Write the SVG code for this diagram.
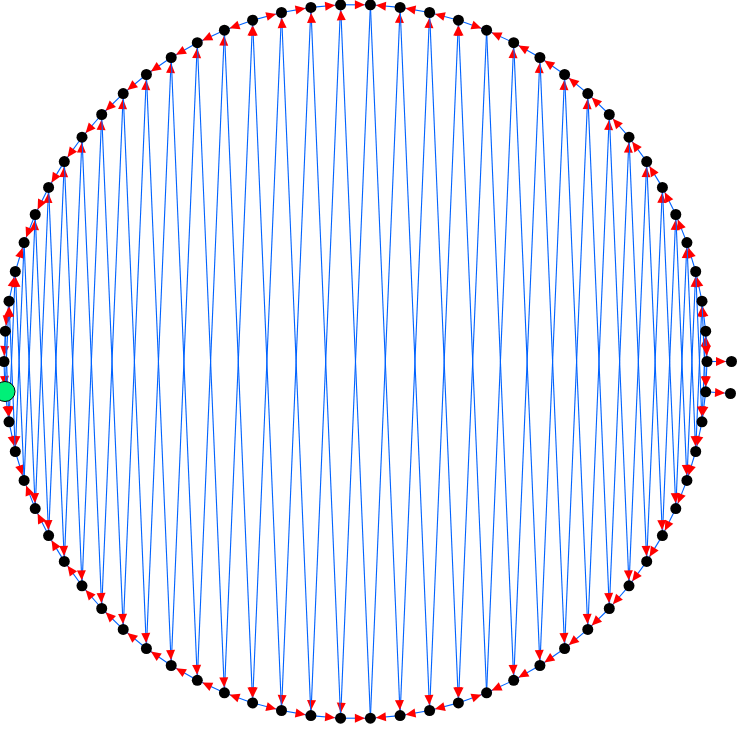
<svg xmlns="http://www.w3.org/2000/svg" width="742" height="730" viewBox="0 0 742 730">
<style>
.e{stroke:#0062ff;stroke-width:1.1;fill:none;marker-end:url(#ah)}
.n{fill:#000}
.g{fill:#00f078;stroke:#000;stroke-width:1}
</style>
<defs>
<marker id="ah" markerUnits="userSpaceOnUse" markerWidth="16" markerHeight="9" refX="15.5" refY="4.5" orient="auto" overflow="visible">
<path d="M0,0L10,4.5L0,9z" fill="#ff0000"/>
</marker>
</defs>
<rect width="742" height="730" fill="#fff"/>
<g id="edges">
<path class="e" d="M707,361.5L705.7,331.2"/>
<path class="e" d="M705.7,331.2L702,301.2"/>
<path class="e" d="M702,301.2L695.7,271.5"/>
<path class="e" d="M695.7,271.5L686.9,242.6"/>
<path class="e" d="M686.9,242.6L675.8,214.5"/>
<path class="e" d="M675.8,214.5L662.4,187.4"/>
<path class="e" d="M662.4,187.4L646.7,161.6"/>
<path class="e" d="M646.7,161.6L629,137.2"/>
<path class="e" d="M629,137.2L609.3,114.5"/>
<path class="e" d="M609.3,114.5L587.8,93.6"/>
<path class="e" d="M587.8,93.6L564.6,74.5"/>
<path class="e" d="M564.6,74.5L539.9,57.5"/>
<path class="e" d="M539.9,57.5L513.7,42.7"/>
<path class="e" d="M513.7,42.7L486.6,30.2"/>
<path class="e" d="M458.4,20.2L486.6,30.2"/>
<path class="e" d="M458.4,20.2L429.6,12.5"/>
<path class="e" d="M429.6,12.5L400.1,7.4"/>
<path class="e" d="M400.1,7.4L370.4,4.8"/>
<path class="e" d="M340.6,4.8L370.4,4.8"/>
<path class="e" d="M310.9,7.4L340.6,4.8"/>
<path class="e" d="M281.5,12.5L310.9,7.4"/>
<path class="e" d="M252.6,20.2L281.5,12.5"/>
<path class="e" d="M252.6,20.2L224.4,30.2"/>
<path class="e" d="M224.4,30.2L197.3,42.7"/>
<path class="e" d="M197.3,42.7L171.2,57.5"/>
<path class="e" d="M171.2,57.5L146.4,74.5"/>
<path class="e" d="M146.4,74.5L123.2,93.6"/>
<path class="e" d="M123.2,93.6L101.7,114.5"/>
<path class="e" d="M101.7,114.5L82,137.2"/>
<path class="e" d="M82,137.2L64.3,161.6"/>
<path class="e" d="M64.3,161.6L48.6,187.4"/>
<path class="e" d="M48.6,187.4L35.2,214.5"/>
<path class="e" d="M35.2,214.5L24.1,242.6"/>
<path class="e" d="M15.3,271.5L24.1,242.6"/>
<path class="e" d="M9,301.2L15.3,271.5"/>
<path class="e" d="M9,301.2L5.3,331.2"/>
<path class="e" d="M5.3,331.2L4,361.5"/>
<path class="e" d="M4,361.5L5,391.5"/>
<path class="e" d="M5,391.5L9,421.8"/>
<path class="e" d="M9,421.8L15.3,451.5"/>
<path class="e" d="M15.3,451.5L24.1,480.4"/>
<path class="e" d="M35.2,508.6L24.1,480.4"/>
<path class="e" d="M48.6,535.6L35.2,508.6"/>
<path class="e" d="M64.3,561.4L48.6,535.6"/>
<path class="e" d="M82,585.8L64.3,561.4"/>
<path class="e" d="M101.7,608.5L82,585.8"/>
<path class="e" d="M123.2,629.4L101.7,608.5"/>
<path class="e" d="M146.4,648.5L123.2,629.4"/>
<path class="e" d="M171.2,665.5L146.4,648.5"/>
<path class="e" d="M197.3,680.3L171.2,665.5"/>
<path class="e" d="M224.4,692.8L197.3,680.3"/>
<path class="e" d="M252.6,702.9L224.4,692.8"/>
<path class="e" d="M252.6,702.9L281.5,710.5"/>
<path class="e" d="M281.5,710.5L310.9,715.6"/>
<path class="e" d="M310.9,715.6L340.6,718.2"/>
<path class="e" d="M340.6,718.2L370.4,718.2"/>
<path class="e" d="M400.1,715.6L370.4,718.2"/>
<path class="e" d="M429.6,710.5L400.1,715.6"/>
<path class="e" d="M458.4,702.9L429.6,710.5"/>
<path class="e" d="M458.4,702.9L486.6,692.8"/>
<path class="e" d="M513.7,680.3L486.6,692.8"/>
<path class="e" d="M539.9,665.5L513.7,680.3"/>
<path class="e" d="M564.6,648.5L539.9,665.5"/>
<path class="e" d="M587.8,629.4L564.6,648.5"/>
<path class="e" d="M609.3,608.5L587.8,629.4"/>
<path class="e" d="M629,585.8L609.3,608.5"/>
<path class="e" d="M646.7,561.4L629,585.8"/>
<path class="e" d="M662.4,535.6L646.7,561.4"/>
<path class="e" d="M675.8,508.6L662.4,535.6"/>
<path class="e" d="M686.9,480.4L675.8,508.6"/>
<path class="e" d="M695.7,451.5L686.9,480.4"/>
<path class="e" d="M702,421.8L695.7,451.5"/>
<path class="e" d="M705.7,391.8L702,421.8"/>
<path class="e" d="M707,361.5L705.7,391.8"/>
<path class="e" d="M702,421.8L705.7,331.2"/>
<path class="e" d="M695.7,451.5L702,301.2"/>
<path class="e" d="M686.9,480.4L695.7,271.5"/>
<path class="e" d="M675.8,508.6L686.9,242.6"/>
<path class="e" d="M662.4,535.6L675.8,214.5"/>
<path class="e" d="M646.7,561.4L662.4,187.4"/>
<path class="e" d="M629,585.8L646.7,161.6"/>
<path class="e" d="M609.3,608.5L629,137.2"/>
<path class="e" d="M587.8,629.4L609.3,114.5"/>
<path class="e" d="M564.6,648.5L587.8,93.6"/>
<path class="e" d="M539.9,665.5L564.6,74.5"/>
<path class="e" d="M513.7,680.3L539.9,57.5"/>
<path class="e" d="M486.6,692.8L513.7,42.7"/>
<path class="e" d="M486.6,30.2L458.4,702.9"/>
<path class="e" d="M429.6,710.5L458.4,20.2"/>
<path class="e" d="M400.1,715.6L429.6,12.5"/>
<path class="e" d="M370.4,718.2L400.1,7.4"/>
<path class="e" d="M370.4,4.8L340.6,718.2"/>
<path class="e" d="M340.6,4.8L310.9,715.6"/>
<path class="e" d="M310.9,7.4L281.5,710.5"/>
<path class="e" d="M281.5,12.5L252.6,702.9"/>
<path class="e" d="M224.4,692.8L252.6,20.2"/>
<path class="e" d="M197.3,680.3L224.4,30.2"/>
<path class="e" d="M171.2,665.5L197.3,42.7"/>
<path class="e" d="M146.4,648.5L171.2,57.5"/>
<path class="e" d="M123.2,629.4L146.4,74.5"/>
<path class="e" d="M101.7,608.5L123.2,93.6"/>
<path class="e" d="M82,585.8L101.7,114.5"/>
<path class="e" d="M64.3,561.4L82,137.2"/>
<path class="e" d="M48.6,535.6L64.3,161.6"/>
<path class="e" d="M35.2,508.6L48.6,187.4"/>
<path class="e" d="M24.1,480.4L35.2,214.5"/>
<path class="e" d="M24.1,242.6L15.3,451.5"/>
<path class="e" d="M15.3,271.5L9,421.8"/>
<path class="e" d="M5,391.5L9,301.2"/>
<path class="e" d="M702,301.2L705.7,391.8"/>
<path class="e" d="M695.7,271.5L702,421.8"/>
<path class="e" d="M686.9,242.6L695.7,451.5"/>
<path class="e" d="M675.8,214.5L686.9,480.4"/>
<path class="e" d="M662.4,187.4L675.8,508.6"/>
<path class="e" d="M646.7,161.6L662.4,535.6"/>
<path class="e" d="M629,137.2L646.7,561.4"/>
<path class="e" d="M609.3,114.5L629,585.8"/>
<path class="e" d="M587.8,93.6L609.3,608.5"/>
<path class="e" d="M564.6,74.5L587.8,629.4"/>
<path class="e" d="M539.9,57.5L564.6,648.5"/>
<path class="e" d="M513.7,42.7L539.9,665.5"/>
<path class="e" d="M486.6,30.2L513.7,680.3"/>
<path class="e" d="M486.6,692.8L458.4,20.2"/>
<path class="e" d="M429.6,12.5L458.4,702.9"/>
<path class="e" d="M400.1,7.4L429.6,710.5"/>
<path class="e" d="M370.4,4.8L400.1,715.6"/>
<path class="e" d="M370.4,718.2L340.6,4.8"/>
<path class="e" d="M340.6,718.2L310.9,7.4"/>
<path class="e" d="M310.9,715.6L281.5,12.5"/>
<path class="e" d="M281.5,710.5L252.6,20.2"/>
<path class="e" d="M224.4,30.2L252.6,702.9"/>
<path class="e" d="M197.3,42.7L224.4,692.8"/>
<path class="e" d="M171.2,57.5L197.3,680.3"/>
<path class="e" d="M146.4,74.5L171.2,665.5"/>
<path class="e" d="M123.2,93.6L146.4,648.5"/>
<path class="e" d="M101.7,114.5L123.2,629.4"/>
<path class="e" d="M82,137.2L101.7,608.5"/>
<path class="e" d="M64.3,161.6L82,585.8"/>
<path class="e" d="M48.6,187.4L64.3,561.4"/>
<path class="e" d="M35.2,214.5L48.6,535.6"/>
<path class="e" d="M24.1,242.6L35.2,508.6"/>
<path class="e" d="M24.1,480.4L15.3,271.5"/>
<path class="e" d="M15.3,451.5L9,301.2"/>
<path class="e" d="M5.3,331.2L9,421.8"/>
<path class="e" d="M705.7,331.2L707,361.5"/>
<path class="e" d="M707,361.5L731.5,361.5"/>
<path class="e" d="M705.7,391.8L730.5,393.5"/>
</g>
<g id="n0"><circle class="n" cx="707" cy="361.5" r="5.5"/></g>
<g id="n1"><circle class="n" cx="705.7" cy="331.2" r="5.5"/></g>
<g id="n2"><circle class="n" cx="702" cy="301.2" r="5.5"/></g>
<g id="n3"><circle class="n" cx="695.7" cy="271.5" r="5.5"/></g>
<g id="n4"><circle class="n" cx="686.9" cy="242.6" r="5.5"/></g>
<g id="n5"><circle class="n" cx="675.8" cy="214.5" r="5.5"/></g>
<g id="n6"><circle class="n" cx="662.4" cy="187.4" r="5.5"/></g>
<g id="n7"><circle class="n" cx="646.7" cy="161.6" r="5.5"/></g>
<g id="n8"><circle class="n" cx="629" cy="137.2" r="5.5"/></g>
<g id="n9"><circle class="n" cx="609.3" cy="114.5" r="5.5"/></g>
<g id="n10"><circle class="n" cx="587.8" cy="93.6" r="5.5"/></g>
<g id="n11"><circle class="n" cx="564.6" cy="74.5" r="5.5"/></g>
<g id="n12"><circle class="n" cx="539.9" cy="57.5" r="5.5"/></g>
<g id="n13"><circle class="n" cx="513.7" cy="42.7" r="5.5"/></g>
<g id="n14"><circle class="n" cx="486.6" cy="30.2" r="5.5"/></g>
<g id="n15"><circle class="n" cx="458.4" cy="20.2" r="5.5"/></g>
<g id="n16"><circle class="n" cx="429.6" cy="12.5" r="5.5"/></g>
<g id="n17"><circle class="n" cx="400.1" cy="7.4" r="5.5"/></g>
<g id="n18"><circle class="n" cx="370.4" cy="4.8" r="5.5"/></g>
<g id="n19"><circle class="n" cx="340.6" cy="4.8" r="5.5"/></g>
<g id="n20"><circle class="n" cx="310.9" cy="7.4" r="5.5"/></g>
<g id="n21"><circle class="n" cx="281.5" cy="12.5" r="5.5"/></g>
<g id="n22"><circle class="n" cx="252.6" cy="20.2" r="5.5"/></g>
<g id="n23"><circle class="n" cx="224.4" cy="30.2" r="5.5"/></g>
<g id="n24"><circle class="n" cx="197.3" cy="42.7" r="5.5"/></g>
<g id="n25"><circle class="n" cx="171.2" cy="57.5" r="5.5"/></g>
<g id="n26"><circle class="n" cx="146.4" cy="74.5" r="5.5"/></g>
<g id="n27"><circle class="n" cx="123.2" cy="93.6" r="5.5"/></g>
<g id="n28"><circle class="n" cx="101.7" cy="114.5" r="5.5"/></g>
<g id="n29"><circle class="n" cx="82" cy="137.2" r="5.5"/></g>
<g id="n30"><circle class="n" cx="64.3" cy="161.6" r="5.5"/></g>
<g id="n31"><circle class="n" cx="48.6" cy="187.4" r="5.5"/></g>
<g id="n32"><circle class="n" cx="35.2" cy="214.5" r="5.5"/></g>
<g id="n33"><circle class="n" cx="24.1" cy="242.6" r="5.5"/></g>
<g id="n34"><circle class="n" cx="15.3" cy="271.5" r="5.5"/></g>
<g id="n35"><circle class="n" cx="9" cy="301.2" r="5.5"/></g>
<g id="n36"><circle class="n" cx="5.3" cy="331.2" r="5.5"/></g>
<g id="n37"><circle class="n" cx="4" cy="361.5" r="5.5"/></g>
<g id="n38"><circle class="g" cx="5" cy="391.5" r="10"/></g>
<g id="n39"><circle class="n" cx="9" cy="421.8" r="5.5"/></g>
<g id="n40"><circle class="n" cx="15.3" cy="451.5" r="5.5"/></g>
<g id="n41"><circle class="n" cx="24.1" cy="480.4" r="5.5"/></g>
<g id="n42"><circle class="n" cx="35.2" cy="508.6" r="5.5"/></g>
<g id="n43"><circle class="n" cx="48.6" cy="535.6" r="5.5"/></g>
<g id="n44"><circle class="n" cx="64.3" cy="561.4" r="5.5"/></g>
<g id="n45"><circle class="n" cx="82" cy="585.8" r="5.5"/></g>
<g id="n46"><circle class="n" cx="101.7" cy="608.5" r="5.5"/></g>
<g id="n47"><circle class="n" cx="123.2" cy="629.4" r="5.5"/></g>
<g id="n48"><circle class="n" cx="146.4" cy="648.5" r="5.5"/></g>
<g id="n49"><circle class="n" cx="171.2" cy="665.5" r="5.5"/></g>
<g id="n50"><circle class="n" cx="197.3" cy="680.3" r="5.5"/></g>
<g id="n51"><circle class="n" cx="224.4" cy="692.8" r="5.5"/></g>
<g id="n52"><circle class="n" cx="252.6" cy="702.9" r="5.5"/></g>
<g id="n53"><circle class="n" cx="281.5" cy="710.5" r="5.5"/></g>
<g id="n54"><circle class="n" cx="310.9" cy="715.6" r="5.5"/></g>
<g id="n55"><circle class="n" cx="340.6" cy="718.2" r="5.5"/></g>
<g id="n56"><circle class="n" cx="370.4" cy="718.2" r="5.5"/></g>
<g id="n57"><circle class="n" cx="400.1" cy="715.6" r="5.5"/></g>
<g id="n58"><circle class="n" cx="429.6" cy="710.5" r="5.5"/></g>
<g id="n59"><circle class="n" cx="458.4" cy="702.9" r="5.5"/></g>
<g id="n60"><circle class="n" cx="486.6" cy="692.8" r="5.5"/></g>
<g id="n61"><circle class="n" cx="513.7" cy="680.3" r="5.5"/></g>
<g id="n62"><circle class="n" cx="539.9" cy="665.5" r="5.5"/></g>
<g id="n63"><circle class="n" cx="564.6" cy="648.5" r="5.5"/></g>
<g id="n64"><circle class="n" cx="587.8" cy="629.4" r="5.5"/></g>
<g id="n65"><circle class="n" cx="609.3" cy="608.5" r="5.5"/></g>
<g id="n66"><circle class="n" cx="629" cy="585.8" r="5.5"/></g>
<g id="n67"><circle class="n" cx="646.7" cy="561.4" r="5.5"/></g>
<g id="n68"><circle class="n" cx="662.4" cy="535.6" r="5.5"/></g>
<g id="n69"><circle class="n" cx="675.8" cy="508.6" r="5.5"/></g>
<g id="n70"><circle class="n" cx="686.9" cy="480.4" r="5.5"/></g>
<g id="n71"><circle class="n" cx="695.7" cy="451.5" r="5.5"/></g>
<g id="n72"><circle class="n" cx="702" cy="421.8" r="5.5"/></g>
<g id="n73"><circle class="n" cx="705.7" cy="391.8" r="5.5"/></g>
<g id="x1"><circle class="n" cx="731.5" cy="361.5" r="5.5"/></g>
<g id="x2"><circle class="n" cx="730.5" cy="393.5" r="5.5"/></g>
</svg>
